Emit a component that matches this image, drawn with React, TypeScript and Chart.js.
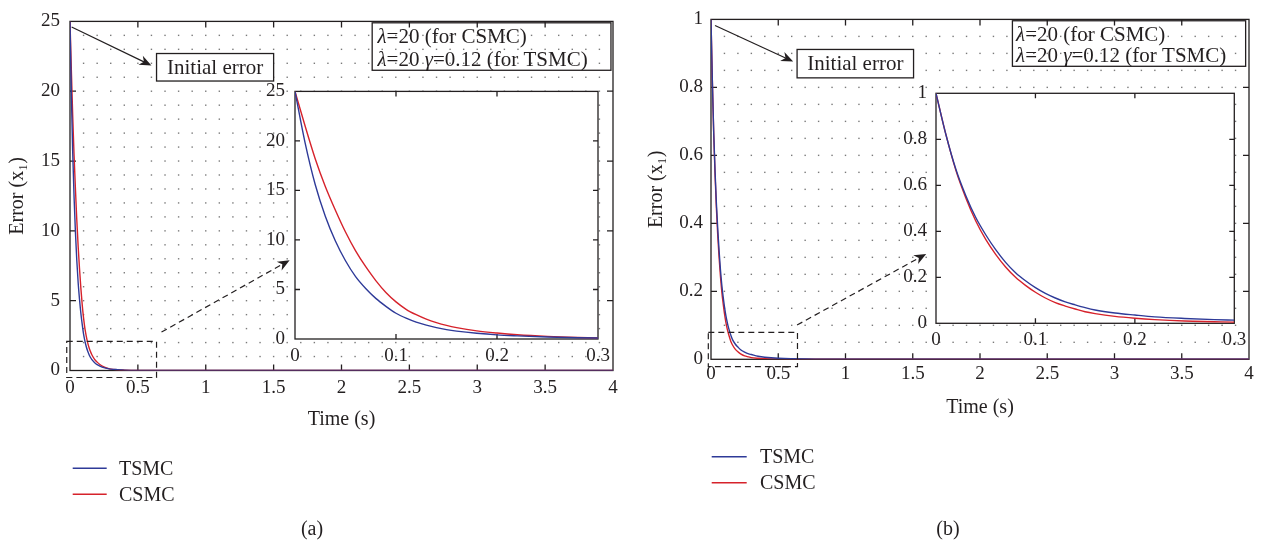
import React, { useEffect, useRef } from "react";
import { Chart, registerables } from "chart.js";

Chart.register(...registerables);

const SERIF = "'Liberation Serif', 'Times New Roman', serif";
const INK = "#231f20";

// Sample instants (s): dense through the transient, sparse on the settled tail
const timeSamples = [
  0, 0.01, 0.02, 0.03, 0.04, 0.05, 0.06, 0.07, 0.08, 0.09, 0.1, 0.11, 0.12, 0.13,
  0.14, 0.15, 0.16, 0.18, 0.2, 0.22, 0.25, 0.28, 0.3, 0.35, 0.4, 0.5, 1, 2, 3, 4,
];

// Case (a): initial error 25
const tsmcErrorA = [
  25, 19.8, 15.6, 12.4, 9.9, 7.9, 6.3, 5.1, 4.1, 3.3, 2.6, 2.1, 1.7, 1.4,
  1.15, 0.95, 0.8, 0.58, 0.42, 0.32, 0.2, 0.13, 0.1, 0.06, 0.03, 0.01, 0, 0, 0, 0,
];
const csmcErrorA = [
  25, 21.5, 18.2, 15.4, 13.0, 10.8, 8.9, 7.3, 5.9, 4.7, 3.75, 3.0, 2.45, 2.0,
  1.65, 1.37, 1.15, 0.82, 0.6, 0.43, 0.26, 0.15, 0.1, 0.05, 0.03, 0.01, 0, 0, 0, 0,
];

// Case (b): initial error 1
const tsmcErrorB = [
  1, 0.82, 0.67, 0.555, 0.46, 0.385, 0.32, 0.265, 0.22, 0.185, 0.155, 0.13, 0.11, 0.093,
  0.08, 0.068, 0.058, 0.045, 0.036, 0.028, 0.021, 0.016, 0.014, 0.009, 0.006, 0.003, 0, 0, 0, 0,
];
const csmcErrorB = [
  1, 0.82, 0.665, 0.545, 0.445, 0.365, 0.3, 0.245, 0.2, 0.165, 0.135, 0.11, 0.09, 0.075,
  0.062, 0.05, 0.042, 0.03, 0.022, 0.016, 0.01, 0.007, 0.005, 0.003, 0.002, 0.001, 0, 0, 0, 0,
];

const seriesLabels = ["TSMC", "CSMC"];
const seriesColors = ["#2e3a98", "#d6222b"];

const timeRange = [0, 4];
const timeStep = 0.5;
const zoomTimeRange = [0, 0.3];
const zoomTimeStep = 0.1;
const errorRangeA = [0, 25];
const errorStepA = 5;
const errorRangeB = [0, 1];
const errorStepB = 0.2;

const xTitle = "Time (s)";
const yTitle = "Error (x\u2081)";
const initialErrorText = "Initial error";
const gainLines = [
  [{ t: "\u03bb", i: true }, { t: "=20 (for CSMC)", i: false }],
  [
    { t: "\u03bb", i: true },
    { t: "=20 ", i: false },
    { t: "\u03b3", i: true },
    { t: "=0.12 (for TSMC)", i: false },
  ],
];

// plain numbers: 0, 0.5, 1, 1.5 ...
const formatTick = (v: number) => String(Math.round(v * 1000) / 1000);

function buildDatasets(tsmc: number[], csmc: number[]) {
  return [tsmc, csmc].map((vals, i) => ({
    label: seriesLabels[i],
    data: timeSamples.map((t, k) => ({ x: t, y: vals[k] })),
    borderColor: seriesColors[i],
    backgroundColor: seriesColors[i],
    borderWidth: 1.4,
    pointRadius: 0,
    cubicInterpolationMode: "monotone",
    fill: false,
  }));
}

function drawArrow(ctx: CanvasRenderingContext2D, x1: number, y1: number, x2: number, y2: number, dashed: boolean) {
  const ang = Math.atan2(y2 - y1, x2 - x1);
  const c = Math.cos(ang);
  const s = Math.sin(ang);
  const L = 12;
  const W = 5;
  const bx = x2 - L * c;
  const by = y2 - L * s;
  ctx.save();
  ctx.strokeStyle = INK;
  ctx.fillStyle = INK;
  ctx.lineWidth = 1.2;
  if (dashed) ctx.setLineDash([6, 4]);
  ctx.beginPath();
  ctx.moveTo(x1, y1);
  ctx.lineTo(x2 - 0.6 * L * c, y2 - 0.6 * L * s);
  ctx.stroke();
  ctx.setLineDash([]);
  ctx.beginPath();
  ctx.moveTo(x2, y2);
  ctx.lineTo(bx + W * s, by - W * c);
  ctx.lineTo(x2 - 0.7 * L * c, y2 - 0.7 * L * s);
  ctx.lineTo(bx - W * s, by + W * c);
  ctx.closePath();
  ctx.fill();
  ctx.restore();
}

function makeDecor(spec: any) {
  return {
    id: "panelDecor",
    beforeDraw(chart: any) {
      if (!spec.fillPlot) return;
      const { ctx, chartArea: a } = chart;
      ctx.save();
      ctx.fillStyle = "#ffffff";
      ctx.fillRect(a.left, a.top, a.right - a.left, a.bottom - a.top);
      ctx.restore();
    },
    beforeDatasetsDraw(chart: any) {
      const { ctx, chartArea: a, scales } = chart;
      const x = scales.x;
      const y = scales.y;
      ctx.save();
      if (spec.lattice) {
        ctx.fillStyle = "#7a7a7a";
        const nx = Math.round((x.max - x.min) / spec.lattice.dx);
        const ny = Math.round((y.max - y.min) / spec.lattice.dy);
        for (let i = 1; i < nx; i++) {
          const px = x.getPixelForValue(x.min + i * spec.lattice.dx);
          for (let j = 1; j < ny; j++) {
            const py = y.getPixelForValue(y.min + j * spec.lattice.dy);
            ctx.fillRect(px - 0.7, py - 0.7, 1.4, 1.4);
          }
        }
      }
      // axes box
      ctx.strokeStyle = INK;
      ctx.lineWidth = 1.3;
      ctx.strokeRect(a.left, a.top, a.right - a.left, a.bottom - a.top);
      // inward major ticks on all four sides
      const tl = spec.tickLen;
      ctx.beginPath();
      x.ticks.forEach((t: any) => {
        const px = x.getPixelForValue(t.value);
        if (px <= a.left + 1 || px >= a.right - 1) return;
        ctx.moveTo(px, a.bottom);
        ctx.lineTo(px, a.bottom - tl);
        ctx.moveTo(px, a.top);
        ctx.lineTo(px, a.top + tl);
      });
      y.ticks.forEach((t: any) => {
        const py = y.getPixelForValue(t.value);
        if (py <= a.top + 1 || py >= a.bottom - 1) return;
        ctx.moveTo(a.left, py);
        ctx.lineTo(a.left + tl, py);
        ctx.moveTo(a.right, py);
        ctx.lineTo(a.right - tl, py);
      });
      ctx.stroke();
      ctx.restore();
    },
    afterDraw(chart: any) {
      const { ctx, scales } = chart;
      const x = scales.x;
      const y = scales.y;
      const X = (v: number) => x.getPixelForValue(v);
      const Y = (v: number) => y.getPixelForValue(v);
      const an = spec.annotations;
      if (an) {
        ctx.save();
        ctx.strokeStyle = INK;
        ctx.fillStyle = INK;
        // initial error call-out
        drawArrow(ctx, X(an.initTail[0]), Y(an.initTail[1]), X(an.initHead[0]), Y(an.initHead[1]), false);
        const bx1 = X(an.initBox[0]);
        const bx2 = X(an.initBox[1]);
        const by1 = Y(an.initBox[3]);
        const by2 = Y(an.initBox[2]);
        ctx.fillStyle = "#fff";
        ctx.fillRect(bx1, by1, bx2 - bx1, by2 - by1);
        ctx.lineWidth = 1.3;
        ctx.strokeRect(bx1, by1, bx2 - bx1, by2 - by1);
        ctx.fillStyle = INK;
        ctx.font = `21px ${SERIF}`;
        ctx.textAlign = "center";
        ctx.textBaseline = "middle";
        ctx.fillText(initialErrorText, (bx1 + bx2) / 2, (by1 + by2) / 2 + 1);
        // gain box
        const gx1 = X(an.gainBox[0]);
        const gx2 = X(an.gainBox[1]);
        const gy1 = Y(an.gainBox[3]);
        const gy2 = Y(an.gainBox[2]);
        ctx.strokeRect(gx1, gy1, gx2 - gx1, gy2 - gy1);
        ctx.textAlign = "left";
        gainLines.forEach((line, li) => {
          let cx = X(an.gainTextX);
          const cy = Y(an.gainLineY[li]);
          line.forEach((seg) => {
            ctx.font = `${seg.i ? "italic " : ""}21px ${SERIF}`;
            ctx.fillText(seg.t, cx, cy);
            cx += ctx.measureText(seg.t).width;
          });
        });
        // zoom region and pointer to inset
        ctx.lineWidth = 1.2;
        ctx.setLineDash([6, 4]);
        const zx1 = X(an.zoomRect[0]);
        const zx2 = X(an.zoomRect[1]);
        const zy1 = Y(an.zoomRect[3]);
        const zy2 = Y(an.zoomRect[2]);
        ctx.strokeRect(zx1, zy1, zx2 - zx1, zy2 - zy1);
        ctx.setLineDash([]);
        drawArrow(ctx, X(an.zoomTail[0]), Y(an.zoomTail[1]), X(an.zoomHead[0]), Y(an.zoomHead[1]), true);
        ctx.restore();
      }
      const lg = spec.legend;
      if (lg) {
        ctx.save();
        chart.data.datasets.forEach((ds: any, i: number) => {
          const ly = lg.ys[i];
          ctx.strokeStyle = ds.borderColor;
          ctx.lineWidth = 1.4;
          ctx.beginPath();
          ctx.moveTo(lg.x1, ly);
          ctx.lineTo(lg.x2, ly);
          ctx.stroke();
          ctx.fillStyle = INK;
          ctx.font = `20px ${SERIF}`;
          ctx.textAlign = "left";
          ctx.textBaseline = "middle";
          ctx.fillText(ds.label, lg.textX, ly + 1);
        });
        ctx.restore();
      }
      if (spec.tag) {
        ctx.save();
        ctx.fillStyle = INK;
        ctx.font = `20px ${SERIF}`;
        ctx.textAlign = "center";
        ctx.textBaseline = "middle";
        ctx.fillText(spec.tag.text, spec.tag.x, spec.tag.y);
        ctx.restore();
      }
    },
  };
}

function buildConfig(p: any): any {
  const tickFont = { family: SERIF, size: 19 };
  const titleFont = { family: SERIF, size: 20 };
  return {
    type: "line",
    data: { datasets: buildDatasets(p.tsmc, p.csmc) },
    options: {
      animation: false,
      responsive: false,
      devicePixelRatio: 1,
      events: [],
      layout: { padding: p.padding },
      plugins: { legend: { display: false }, tooltip: { enabled: false } },
      scales: {
        x: {
          type: "linear",
          min: p.xRange[0],
          max: p.xRange[1],
          grid: { display: false, drawTicks: false },
          border: { display: false },
          ticks: {
            stepSize: p.xStep,
            padding: p.xTickPad,
            font: tickFont,
            color: INK,
            maxRotation: 0,
            autoSkip: false,
            callback: (v: number) => formatTick(v),
          },
          title: p.withTitles
            ? { display: true, text: xTitle, font: titleFont, color: INK, padding: { top: 0, bottom: p.xTitlePad } }
            : { display: false },
          afterFit: (s: any) => {
            s.height = p.xHeight;
          },
        },
        y: {
          type: "linear",
          min: p.yRange[0],
          max: p.yRange[1],
          grid: { display: false, drawTicks: false },
          border: { display: false },
          ticks: {
            stepSize: p.yStep,
            padding: p.yTickPad,
            font: tickFont,
            color: INK,
            autoSkip: false,
            callback: (v: number) => formatTick(v),
          },
          title: p.withTitles
            ? { display: true, text: yTitle, font: titleFont, color: INK, padding: { top: p.yTitlePad, bottom: 0 } }
            : { display: false },
          afterFit: (s: any) => {
            s.width = p.yWidth;
          },
        },
      },
    },
    plugins: [makeDecor(p.decor)],
  };
}

const panels: any[] = [
  {
    box: { left: 0, top: 0, width: 640, height: 548 },
    tsmc: tsmcErrorA,
    csmc: csmcErrorA,
    xRange: timeRange,
    xStep: timeStep,
    yRange: errorRangeA,
    yStep: errorStepA,
    padding: { left: 0, top: 12, right: 27, bottom: 113.5 },
    xHeight: 64,
    yWidth: 70,
    xTickPad: 6,
    yTickPad: 10,
    withTitles: true,
    xTitlePad: 2.5,
    yTitlePad: 6,
    decor: {
      lattice: { dx: 0.1, dy: 1 },
      tickLen: 6,
      annotations: {
        initTail: [0.012, 24.6],
        initHead: [0.6, 21.84],
        initBox: [0.6375, 1.5, 20.73, 22.7],
        gainBox: [2.226, 3.985, 21.5, 24.9],
        gainTextX: 2.265,
        gainLineY: [23.88, 22.23],
        zoomRect: [-0.024, 0.6375, -0.5, 2.08],
        zoomTail: [0.674, 2.75],
        zoomHead: [1.618, 7.9],
      },
      legend: { x1: 72.7, x2: 106.7, ys: [468.3, 494.3], textX: 119 },
      tag: { text: "(a)", x: 312, y: 530 },
    },
  },
  {
    box: { left: 240, top: 70, width: 400, height: 310 },
    tsmc: tsmcErrorA,
    csmc: csmcErrorA,
    xRange: zoomTimeRange,
    xStep: zoomTimeStep,
    yRange: errorRangeA,
    yStep: errorStepA,
    padding: { left: 0, top: 15, right: 42, bottom: 11 },
    xHeight: 30,
    yWidth: 55,
    xTickPad: 6,
    yTickPad: 10,
    withTitles: false,
    decor: { fillPlot: true, tickLen: 5 },
  },
  {
    box: { left: 640, top: 0, width: 621, height: 548 },
    tsmc: tsmcErrorB,
    csmc: csmcErrorB,
    xRange: timeRange,
    xStep: timeStep,
    yRange: errorRangeB,
    yStep: errorStepB,
    padding: { left: 0, top: 12, right: 12, bottom: 126.7 },
    xHeight: 62,
    yWidth: 71,
    xTickPad: 3,
    yTickPad: 8,
    withTitles: true,
    xTitlePad: 1.3,
    yTitlePad: 5,
    decor: {
      lattice: { dx: 0.1, dy: 0.05 },
      tickLen: 6,
      annotations: {
        initTail: [0.03, 0.982],
        initHead: [0.611, 0.876],
        initBox: [0.64, 1.506, 0.828, 0.9116],
        gainBox: [2.241, 3.975, 0.862, 0.996],
        gainTextX: 2.268,
        gainLineY: [0.953, 0.8906],
        zoomRect: [-0.02, 0.643, -0.0213, 0.0795],
        zoomTail: [0.64, 0.1008],
        zoomHead: [1.6, 0.31],
      },
      legend: { x1: 71.7, x2: 106.7, ys: [456.7, 482.7], textX: 120 },
      tag: { text: "(b)", x: 308, y: 530 },
    },
  },
  {
    box: { left: 880, top: 70, width: 381, height: 300 },
    tsmc: tsmcErrorB,
    csmc: csmcErrorB,
    xRange: zoomTimeRange,
    xStep: zoomTimeStep,
    yRange: errorRangeB,
    yStep: errorStepB,
    padding: { left: 0, top: 23.3, right: 26.7, bottom: 16.7 },
    xHeight: 30,
    yWidth: 56,
    xTickPad: 5,
    yTickPad: 9,
    withTitles: false,
    decor: { fillPlot: true, tickLen: 5 },
  },
];

export default function App() {
  const r0 = useRef<HTMLCanvasElement>(null);
  const r1 = useRef<HTMLCanvasElement>(null);
  const r2 = useRef<HTMLCanvasElement>(null);
  const r3 = useRef<HTMLCanvasElement>(null);
  const refs = [r0, r1, r2, r3];

  useEffect(() => {
    const charts = panels.map((p, i) => new Chart(refs[i].current as HTMLCanvasElement, buildConfig(p)));
    return () => charts.forEach((c) => c.destroy());
  }, []);

  return (
    <div style={{ position: "fixed", left: 0, top: 0, width: 1261, height: 548, background: "#fff", overflow: "hidden" }}>
      {panels.map((p, i) => (
        <canvas
          key={i}
          ref={refs[i]}
          width={p.box.width}
          height={p.box.height}
          style={{ position: "absolute", left: p.box.left, top: p.box.top, width: p.box.width, height: p.box.height }}
        />
      ))}
    </div>
  );
}
